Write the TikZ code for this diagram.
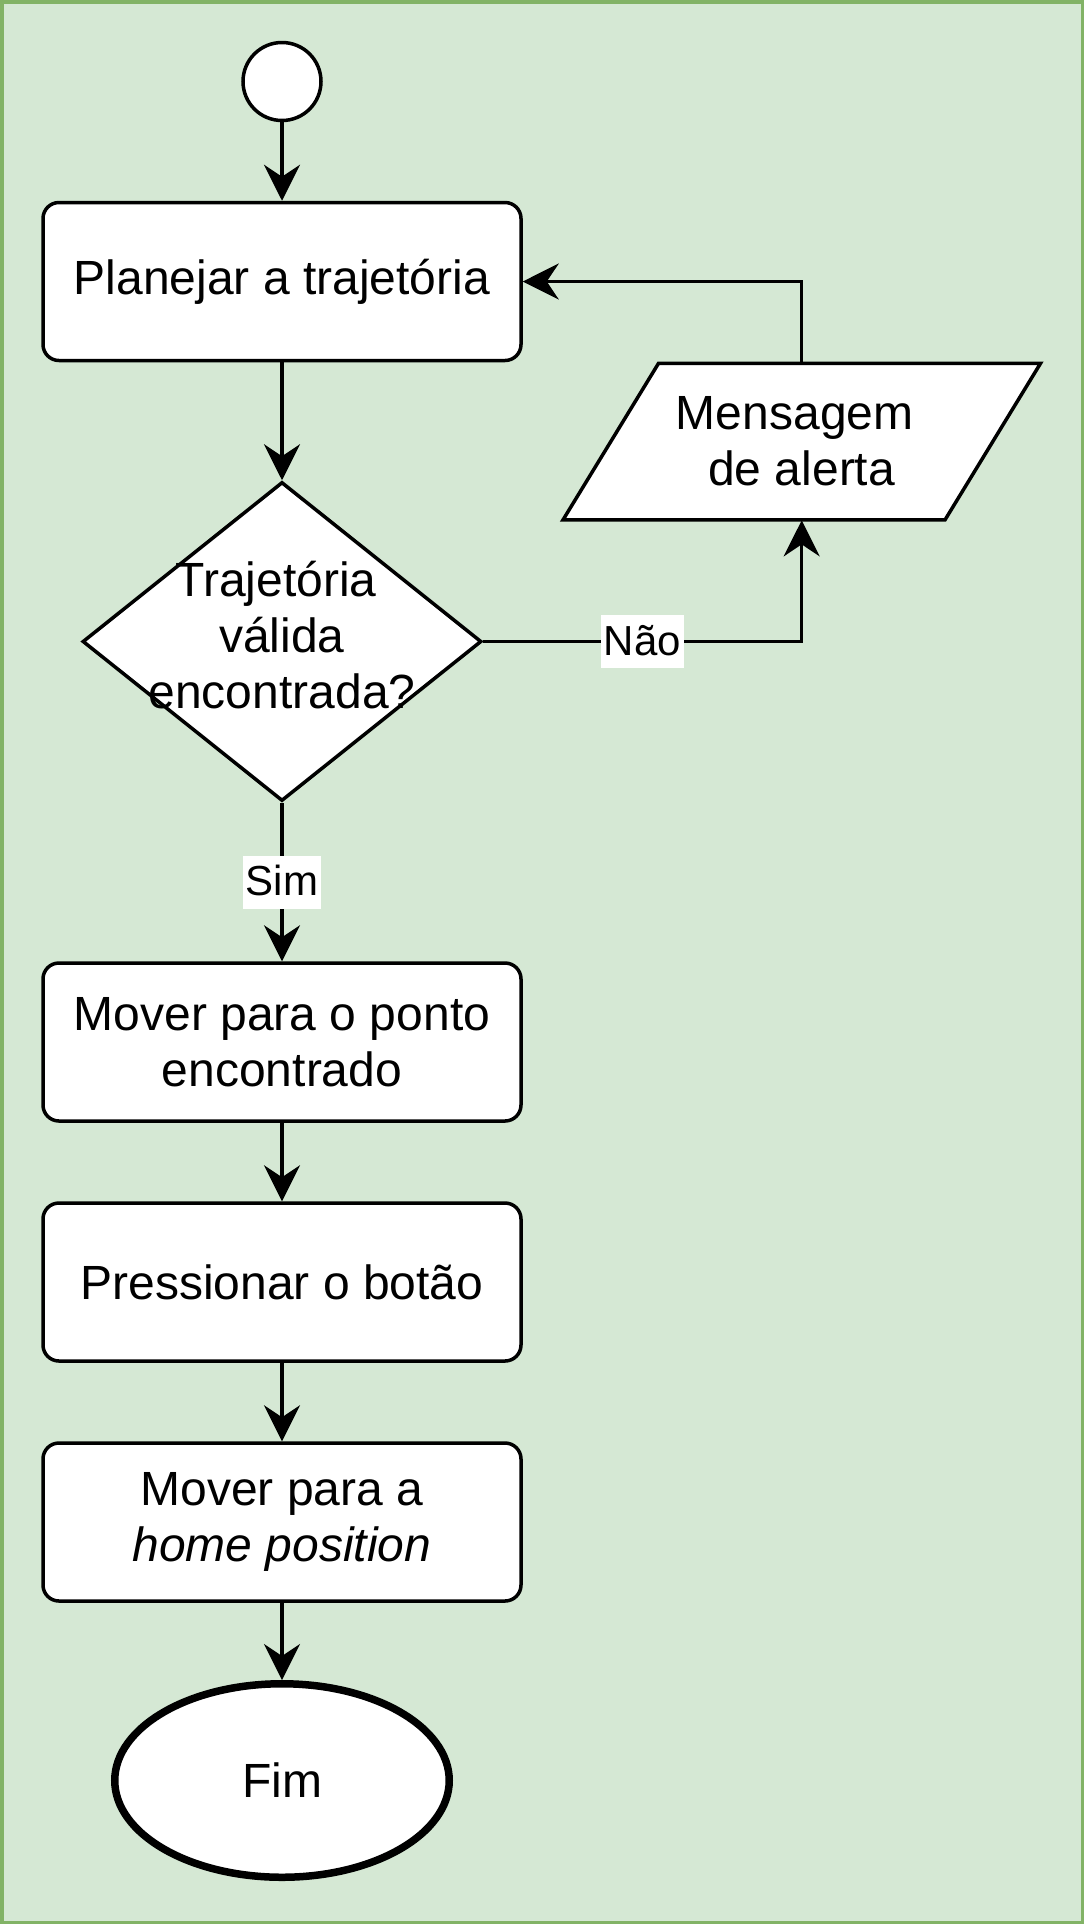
\documentclass[tikz,border=0pt]{standalone}
\usepackage{fontspec}
\setmainfont{Liberation Sans}
\usepackage{tikz}
\usetikzlibrary{calc,shapes.geometric,arrows.meta}
\usepackage{xcolor}
\definecolor{bggreen}{HTML}{D5E8D4}
\definecolor{bordergreen}{HTML}{82B366}
\newcommand{\mainsize}{\fontsize{24pt}{28pt}\selectfont}
\newcommand{\lblsize}{\fontsize{21pt}{25pt}\selectfont}

\tikzset{
  arr/.style={line width=1.75pt,-{Stealth[length=18pt,width=18pt,inset=6pt]}},
  lbl/.style={fill=white,inner xsep=1.5pt,inner ysep=3pt,text height=17pt,text depth=3.5pt,font=\lblsize},
  startnode/.style={circle,draw,fill=white,line width=1.75pt,minimum size=39pt,inner sep=0pt},
  procbox/.style={rectangle,rounded corners=8pt,draw,fill=white,line width=1.75pt,
    minimum width=239pt,minimum height=79pt,align=center,font=\mainsize},
  decision/.style={diamond,draw,fill=white,line width=1.75pt,
    minimum width=199.5pt,minimum height=159.5pt,inner sep=0pt},
  iobox/.style={draw,fill=white,line width=1.75pt,line join=miter},
  iotext/.style={rectangle,minimum height=78.25pt,inner sep=0pt,align=center,font=\mainsize},
  endnode/.style={ellipse,draw,fill=white,line width=3.75pt,
    minimum width=167.25pt,minimum height=96.75pt,font=\mainsize}
}

\begin{document}
\begin{tikzpicture}[x=0.5pt,y=-0.5pt]
    % background panel
    \useasboundingbox (0,0) rectangle (1084,1924);
    \draw[bordergreen,fill=bggreen,line width=1.75pt] (1.75,1.75) rectangle (1082.25,1922.25);

    % flow nodes
    \node[startnode] (start) at (282,81.5) {};
    \node[procbox] (plan) at (282,281.5) {Planejar a trajetória};
    \node[decision,label={[align=center,font=\mainsize,yshift=3pt]center:Trajetória\hspace*{6pt}\\válida\\encontrada?}] (check) at (282,641.5) {};

    % alert message (parallelogram)
    \coordinate (alertc) at (801.7,441.7);
    \draw[iobox] ($(alertc)+(-238.75,78.25)$) -- ($(alertc)+(143.25,78.25)$)
      -- ($(alertc)+(238.75,-78.25)$) -- ($(alertc)+(-143.25,-78.25)$) -- cycle;
    \node[iotext] (alert) at (alertc) {Mensagem\hspace*{7pt}\\ de alerta};

    \node[procbox] (move) at (282,1042) {Mover para o ponto\\encontrado};
    \node[procbox] (press) at (282,1282) {Pressionar o botão};
    \node[procbox] (home) at (282,1522) {Mover para a\\\textit{home position}};
    \node[endnode] (fim) at (282,1780.5) {Fim};

    % connectors
    \draw[arr] (start) -- (plan);
    \draw[arr] (plan) -- (check);
    \draw[arr] (check.east) -| node[lbl,pos=0.25] {Não} (alert.south);
    \draw[arr] (alert.north) |- (plan.east);
    \draw[arr] (check.south) -- node[lbl] {Sim} (move.north);
    \draw[arr] (move) -- (press);
    \draw[arr] (press) -- (home);
    \draw[arr] (home) -- (fim);
  \end{tikzpicture}
\end{document}
